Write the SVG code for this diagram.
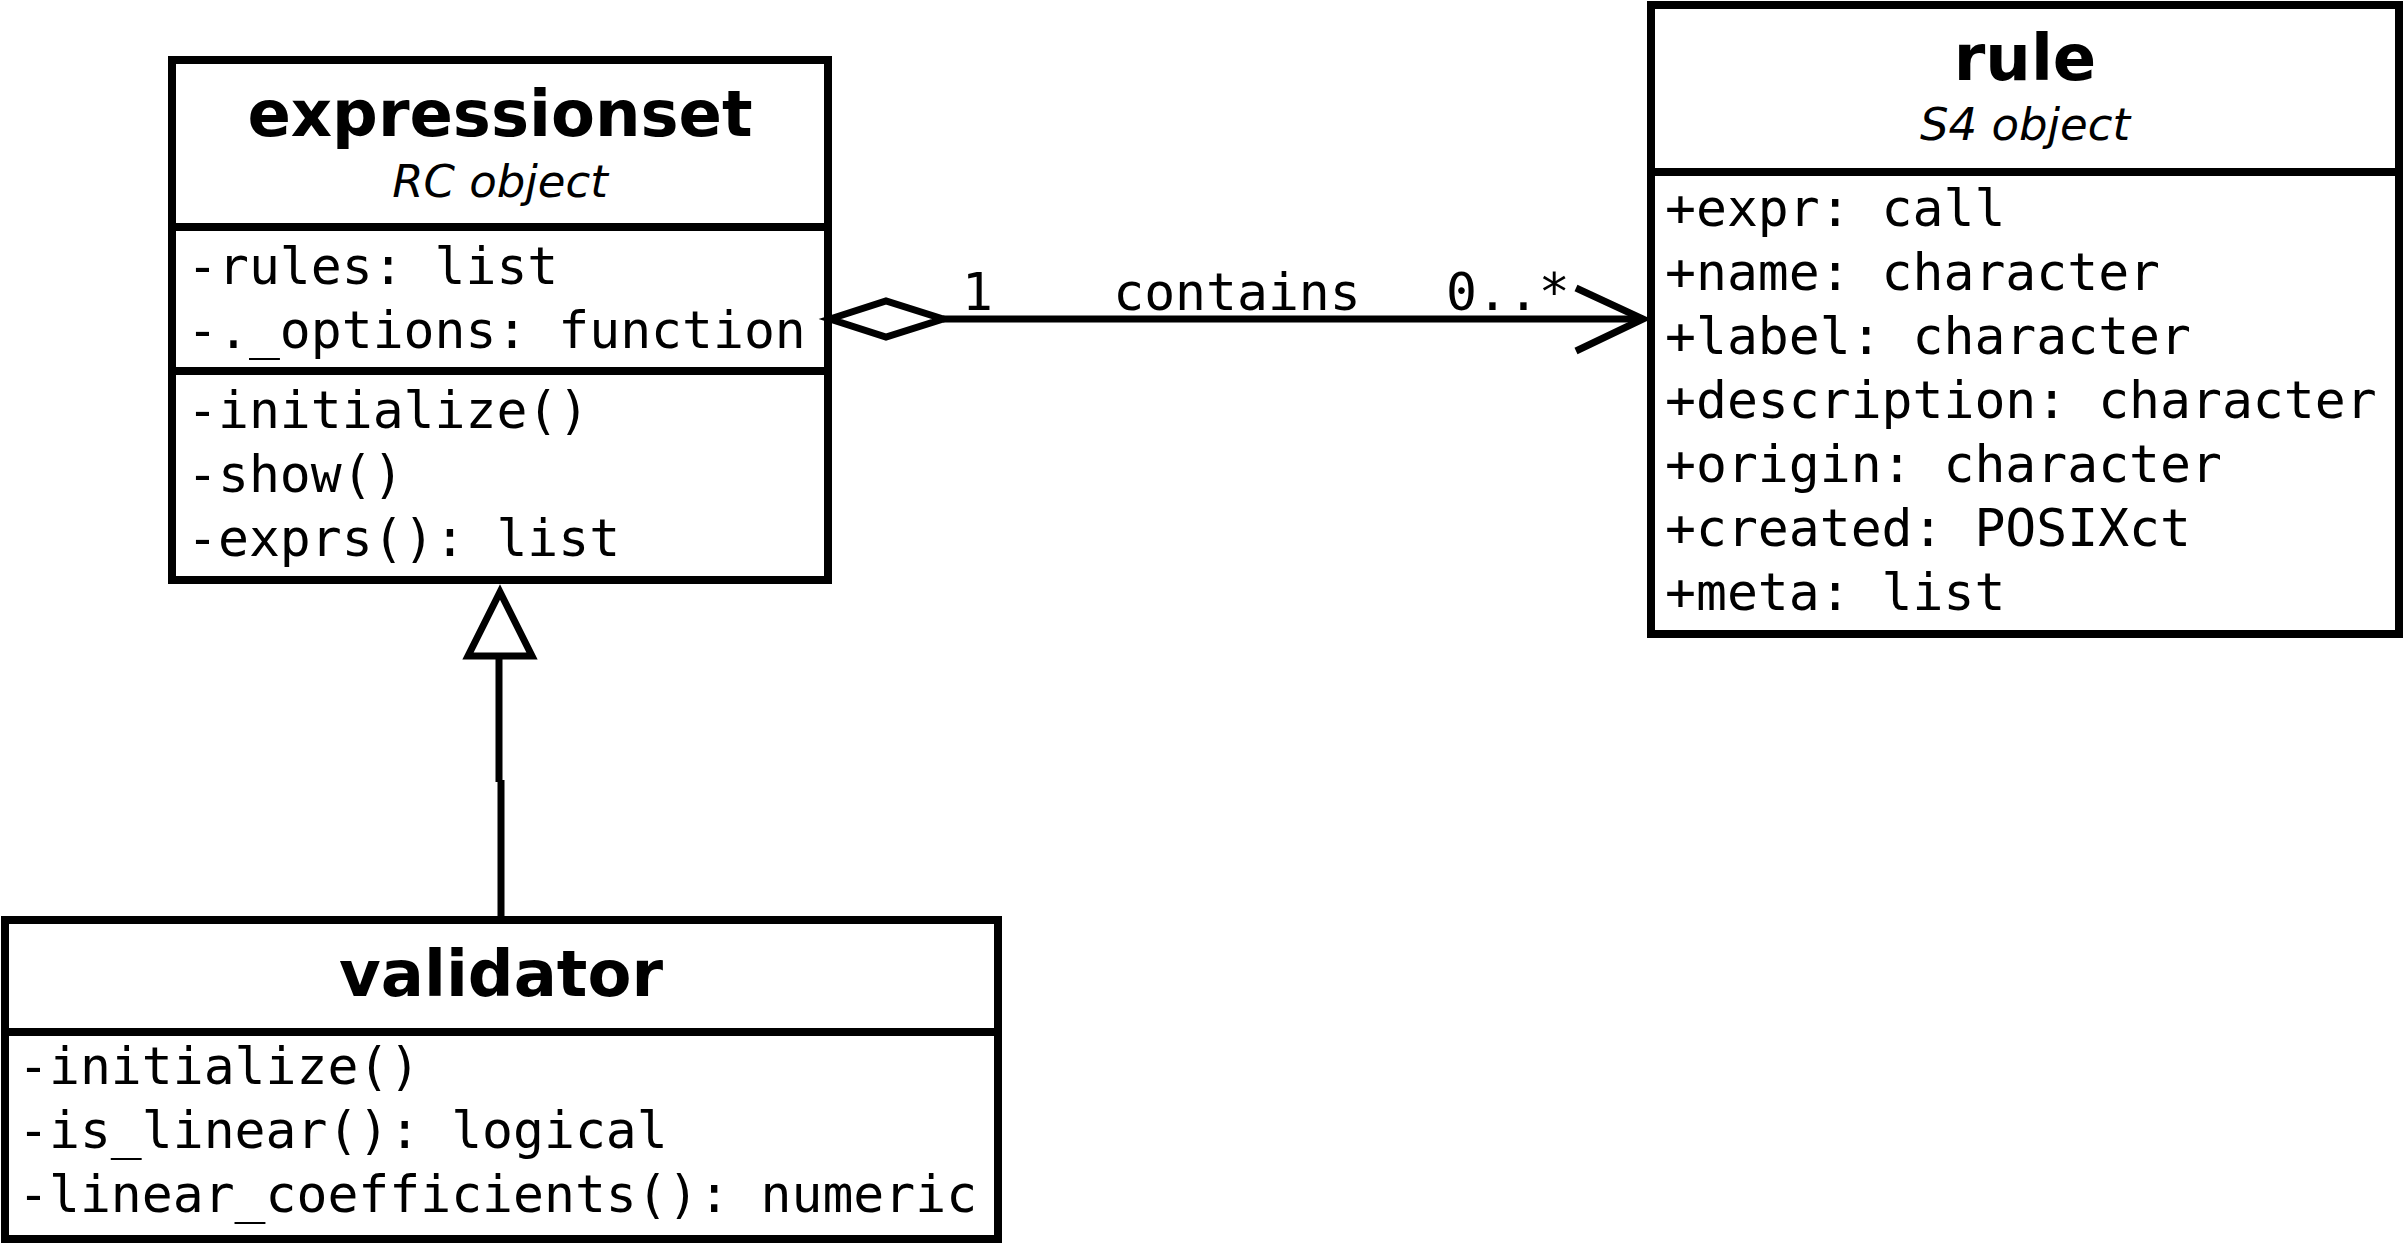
<svg xmlns="http://www.w3.org/2000/svg" width="2404" height="1244" viewBox="0 0 2404 1244">
<style>
.box{fill:#fff;stroke:#000;stroke-width:8}
.div{stroke:#000;stroke-width:8}
.title{font-family:"DejaVu Sans",sans-serif;font-weight:bold;font-size:64px;text-anchor:middle;fill:#000}
.stereo{font-family:"DejaVu Sans",sans-serif;font-style:italic;font-size:45px;text-anchor:middle;fill:#000}
.mono{font-family:"DejaVu Sans Mono",monospace;font-size:51.4px;fill:#000}
.edge{fill:none;stroke:#000;stroke-width:7}
</style>
<rect width="2404" height="1244" fill="#fff"/>
<g id="expressionset">
<rect class="box" x="172" y="60" width="656" height="520"/>
<line class="div" x1="172" y1="227" x2="828" y2="227"/>
<line class="div" x1="172" y1="371" x2="828" y2="371"/>
<text class="title" x="500" y="136">expressionset</text>
<text class="stereo" x="500" y="197">RC object</text>
<text class="mono" x="187" y="284">-rules: list</text>
<text class="mono" x="187" y="348">-._options: function</text>
<text class="mono" x="187" y="428">-initialize()</text>
<text class="mono" x="187" y="492">-show()</text>
<text class="mono" x="187" y="556">-exprs(): list</text>
</g>
<g id="rule">
<rect class="box" x="1651" y="5" width="748" height="629"/>
<line class="div" x1="1651" y1="172" x2="2399" y2="172"/>
<text class="title" x="2025" y="80">rule</text>
<text class="stereo" x="2025" y="140">S4 object</text>
<text class="mono" x="1665" y="226">+expr: call</text>
<text class="mono" x="1665" y="290">+name: character</text>
<text class="mono" x="1665" y="354">+label: character</text>
<text class="mono" x="1665" y="418">+description: character</text>
<text class="mono" x="1665" y="482">+origin: character</text>
<text class="mono" x="1665" y="546">+created: POSIXct</text>
<text class="mono" x="1665" y="610">+meta: list</text>
</g>
<g id="validator">
<rect class="box" x="5" y="920" width="993" height="319"/>
<line class="div" x1="5" y1="1032" x2="998" y2="1032"/>
<text class="title" x="501" y="996">validator</text>
<text class="mono" x="18" y="1084">-initialize()</text>
<text class="mono" x="18" y="1148">-is_linear(): logical</text>
<text class="mono" x="18" y="1212">-linear_coefficients(): numeric</text>
</g>
<g id="connectors">
<path class="edge" d="M943 319 L1643 319"/>
<polygon class="edge" points="830,319 886,301 943,319 886,337" style="fill:#fff"/>
<path class="edge" d="M1576 288 L1643 319 L1576 351"/>
<text class="mono" x="962" y="310">1</text>
<text class="mono" x="1237" y="310" text-anchor="middle">contains</text>
<text class="mono" x="1446" y="310">0..*</text>
<path class="edge" d="M499 656 L499 782 M501 780 L501 920"/>
<polygon class="edge" points="500,592 468,656 532,656" style="fill:#fff"/>
</g>
</svg>
